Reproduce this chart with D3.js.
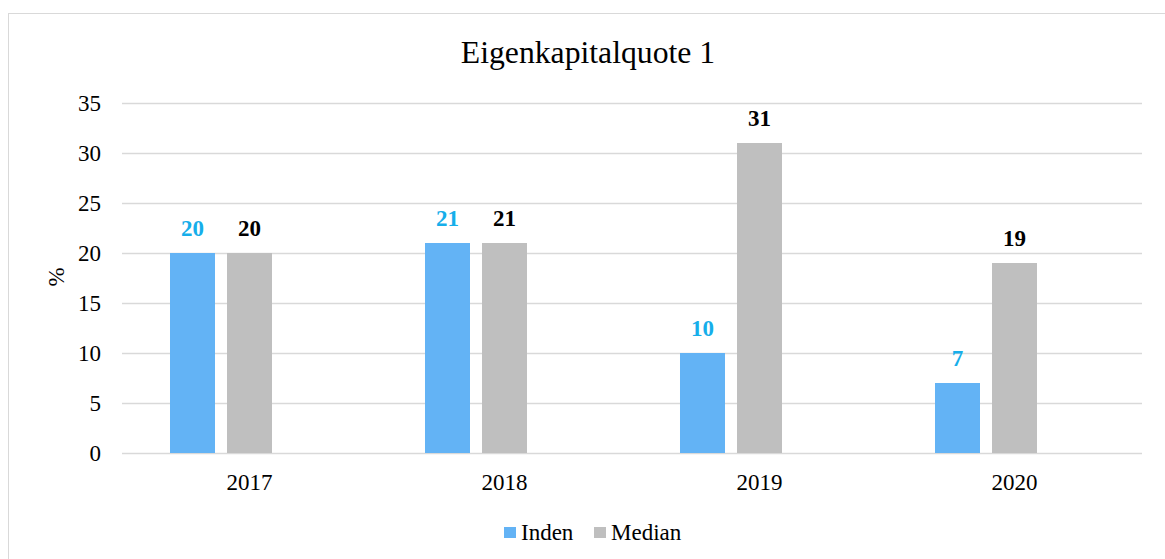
<!DOCTYPE html>
<html><head><meta charset="utf-8">
<script src="https://cdn.jsdelivr.net/npm/d3@7"></script>
<style>body{margin:0;background:#fff}svg{display:block}</style>
</head><body>
<script>
const categories = ["2017","2018","2019","2020"];
const indenValues = [20,21,10,7];
const medianValues = [20,21,31,19];
const seriesNames = ["Inden","Median"];
const yTicks = [0,5,10,15,20,25,30,35];
const title = "Eigenkapitalquote 1";
const yLabel = "%";

const W=1165,H=559;
const FONT="Liberation Serif";
const svg=d3.select("body").append("svg").attr("width",W).attr("height",H).attr("font-family",FONT);
svg.append("rect").attr("x",8.5).attr("y",13.5).attr("width",W).attr("height",H).attr("fill","#fff").attr("stroke","#d9d9d9").attr("stroke-width",1);

const L=122,R=1142,T=103,B=453;
const y=d3.scaleLinear().domain([0,35]).range([B,T]);
const x0=d3.scaleBand().domain(categories).range([L,R]).padding(0);
const slots=["Inden","Median","_"];
const bw=x0.bandwidth();
const x1=d3.scaleBand().domain(slots).range([bw*0.1882,bw*0.8118]).paddingInner(12/57).paddingOuter(0);

svg.append("text").attr("x",588).attr("y",63).attr("text-anchor","middle").attr("font-size",31.7).attr("fill","#000").text(title);

svg.append("g").selectAll("line").data(yTicks).join("line")
 .attr("x1",L).attr("x2",R).attr("y1",d=>Math.round(y(d))+0.5).attr("y2",d=>Math.round(y(d))+0.5)
 .attr("stroke","#d9d9d9").attr("stroke-width",1.3);
svg.append("g").selectAll("text").data(yTicks).join("text")
 .attr("x",101).attr("y",d=>y(d)+8).attr("text-anchor","end").attr("font-size",23).text(d=>d);

svg.append("text").attr("transform","translate(64,277) rotate(-90)").attr("text-anchor","middle").attr("font-size",23).text(yLabel);

const colors={Inden:"#63b3f5",Median:"#bfbfbf"};
const labelColors={Inden:"#16aeea",Median:"#000"};
const data=categories.map((c,i)=>({c,vals:[{s:seriesNames[0],v:indenValues[i]},{s:seriesNames[1],v:medianValues[i]}]}));
const g=svg.append("g").selectAll("g").data(data).join("g").attr("transform",d=>`translate(${x0(d.c)},0)`);
g.selectAll("rect").data(d=>d.vals).join("rect")
 .attr("x",d=>x1(d.s)).attr("width",x1.bandwidth()).attr("y",d=>y(d.v)).attr("height",d=>B-y(d.v)).attr("fill",d=>colors[d.s]);
g.selectAll("text").data(d=>d.vals).join("text")
 .attr("x",d=>x1(d.s)+x1.bandwidth()/2).attr("y",d=>y(d.v)-17).attr("text-anchor","middle")
 .attr("font-size",23).attr("font-weight","bold").attr("fill",d=>labelColors[d.s]).text(d=>d.v);

svg.append("g").selectAll("text").data(categories).join("text")
 .attr("x",d=>x0(d)+bw/2).attr("y",490).attr("text-anchor","middle").attr("font-size",23).text(d=>d);

const leg=[{s:seriesNames[0],x:504},{s:seriesNames[1],x:594}];
const lg=svg.append("g").selectAll("g").data(leg).join("g").attr("transform",d=>`translate(${d.x},0)`);
lg.append("rect").attr("x",0).attr("y",527).attr("width",12).attr("height",11).attr("fill",d=>colors[d.s]);
lg.append("text").attr("x",17).attr("y",540).attr("font-size",23).text(d=>d.s);
</script>
</body></html>
